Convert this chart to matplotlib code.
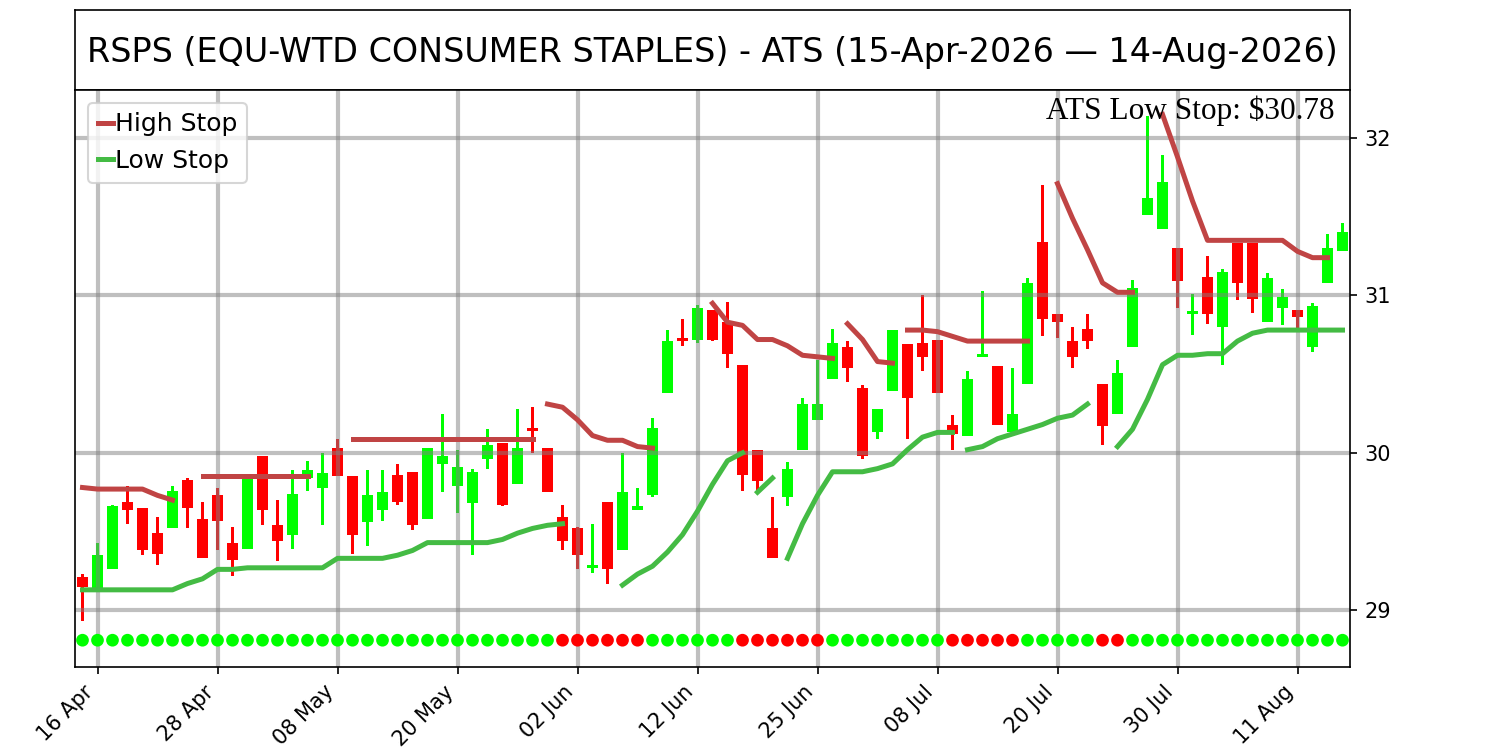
import numpy as np
import pandas as pd
from matplotlib import pyplot as plt

# trading days (NYSE holidays removed)
holidays = ["2026-05-25", "2026-06-19", "2026-07-03"]
days = pd.bdate_range("2026-04-15", "2026-08-14")
days = days[~days.isin(pd.to_datetime(holidays))]

opens = [29.21, 29.13, 29.26, 29.69, 29.65, 29.49, 29.52, 29.83, 29.58, 29.73,
         29.43, 29.39, 29.98, 29.54, 29.48, 29.84, 29.78, 30.03, 29.85, 29.56,
         29.64, 29.86, 29.88, 29.58, 29.93, 29.79, 29.68, 29.96, 30.06, 29.80,
         30.16, 30.03, 29.59, 29.52, 29.27, 29.69, 29.38, 29.64, 29.73, 30.38,
         30.73, 30.72, 30.91, 30.83, 30.56, 30.02, 29.52, 29.72, 30.02, 30.21,
         30.47, 30.67, 30.41, 30.13, 30.39, 30.69, 30.70, 30.72, 30.18, 30.11,
         30.61, 30.55, 30.13, 30.44, 31.34, 30.88, 30.71, 30.79, 30.44, 30.25,
         30.67, 31.51, 31.42, 31.30, 30.88, 31.12, 30.80, 31.33, 31.33, 30.83,
         30.92, 30.91, 30.67, 31.08, 31.28]
highs = [29.23, 29.43, 29.67, 29.79, 29.65, 29.59, 29.79, 29.84, 29.69, 29.78,
         29.53, 29.86, 29.98, 29.70, 29.89, 29.95, 30.00, 30.09, 29.85, 29.89,
         29.89, 29.93, 29.88, 30.03, 30.25, 30.02, 29.90, 30.15, 30.06, 30.28,
         30.29, 30.03, 29.67, 29.53, 29.55, 29.69, 30.00, 29.78, 30.22, 30.78,
         30.85, 30.94, 30.91, 30.96, 30.56, 30.02, 29.72, 29.94, 30.35, 30.59,
         30.79, 30.71, 30.43, 30.28, 30.78, 30.69, 31.00, 30.72, 30.24, 30.52,
         31.03, 30.55, 30.54, 31.11, 31.70, 30.88, 30.80, 30.88, 30.44, 30.59,
         31.10, 32.14, 31.89, 31.30, 31.01, 31.25, 31.17, 31.33, 31.33, 31.14,
         31.04, 30.91, 30.95, 31.39, 31.46]
lows = [28.93, 29.13, 29.26, 29.55, 29.35, 29.29, 29.52, 29.52, 29.33, 29.38,
        29.22, 29.39, 29.54, 29.31, 29.39, 29.76, 29.54, 29.85, 29.36, 29.41,
        29.57, 29.67, 29.51, 29.58, 29.75, 29.62, 29.35, 29.90, 29.66, 29.80,
        30.00, 29.75, 29.38, 29.26, 29.24, 29.17, 29.38, 29.64, 29.72, 30.38,
        30.68, 30.70, 30.71, 30.54, 29.76, 29.76, 29.33, 29.66, 30.02, 30.21,
        30.47, 30.45, 29.96, 30.09, 30.39, 30.09, 30.52, 30.38, 30.02, 30.11,
        30.61, 30.18, 30.13, 30.44, 30.74, 30.73, 30.54, 30.66, 30.05, 30.25,
        30.67, 31.51, 31.42, 30.92, 30.75, 30.82, 30.56, 30.97, 30.89, 30.83,
        30.81, 30.77, 30.64, 31.08, 31.28]
closes = [29.15, 29.35, 29.66, 29.64, 29.38, 29.36, 29.76, 29.65, 29.33, 29.57,
          29.32, 29.86, 29.64, 29.44, 29.74, 29.89, 29.87, 29.85, 29.48, 29.73,
          29.75, 29.69, 29.54, 30.03, 29.98, 29.91, 29.88, 30.05, 29.67, 30.03,
          30.14, 29.75, 29.44, 29.35, 29.29, 29.26, 29.75, 29.66, 30.16, 30.71,
          30.71, 30.92, 30.72, 30.63, 29.86, 29.82, 29.33, 29.90, 30.31, 30.31,
          30.70, 30.54, 29.98, 30.28, 30.78, 30.35, 30.61, 30.38, 30.12, 30.47,
          30.63, 30.18, 30.25, 31.08, 30.85, 30.83, 30.61, 30.71, 30.17, 30.51,
          31.05, 31.62, 31.72, 31.09, 30.90, 30.88, 31.15, 31.08, 30.98, 31.11,
          30.99, 30.86, 30.93, 31.30, 31.40]

# stop lines: (first day index, values)
high_stop_segments = [
    (0, [29.78, 29.77, 29.77, 29.77, 29.77, 29.73, 29.70]),
    (8, [29.85] * 8),
    (18, [30.09] * 13),
    (31, [30.31, 30.29, 30.21, 30.11, 30.08, 30.08, 30.04, 30.03]),
    (42, [30.95, 30.83, 30.81, 30.72, 30.72, 30.68, 30.62, 30.61, 30.60]),
    (51, [30.82, 30.72, 30.58, 30.57]),
    (55, [30.78, 30.78, 30.77, 30.74, 30.71, 30.71, 30.71, 30.71, 30.71]),
    (65, [31.71, 31.49, 31.29, 31.08, 31.02, 31.02]),
    (72, [32.15, 31.88, 31.60, 31.35, 31.35, 31.35, 31.35, 31.35, 31.35,
          31.28, 31.24, 31.24]),
]
low_stop_segments = [
    (0, [29.13, 29.13, 29.13, 29.13, 29.13, 29.13, 29.13, 29.17, 29.20, 29.26,
         29.26, 29.27, 29.27, 29.27, 29.27, 29.27, 29.27, 29.33, 29.33, 29.33,
         29.33, 29.35, 29.38, 29.43, 29.43, 29.43, 29.43, 29.43, 29.45, 29.49,
         29.52, 29.54, 29.55]),
    (36, [29.16, 29.23, 29.28, 29.37, 29.48, 29.63, 29.80, 29.95, 30.00]),
    (45, [29.75, 29.84]),
    (47, [29.33, 29.55, 29.73, 29.88, 29.88, 29.88, 29.90, 29.93, 30.02, 30.10,
          30.13, 30.13]),
    (59, [30.02, 30.04, 30.09, 30.12, 30.15, 30.18, 30.22, 30.24, 30.31]),
    (69, [30.04, 30.15, 30.34, 30.56, 30.62, 30.62, 30.63, 30.63, 30.71, 30.76,
          30.78, 30.78, 30.78, 30.78, 30.78, 30.78]),
]
short_days = [32, 33, 34, 35, 36, 37, 44, 45, 46, 47, 48, 49,
              58, 59, 60, 61, 62, 68, 69]
last_low_stop = 30.78

UP = "#00ff00"
DOWN = "#ff0000"

fig = plt.figure(figsize=(10, 5), dpi=150)
tax = fig.add_axes([0.05, 0.88, 0.85, 0.1067])
tax.set_xticks([])
tax.set_yticks([])
tax.text(0.5, 0.47,
         f"RSPS (EQU-WTD CONSUMER STAPLES) - ATS "
         f"({days[0]:%d-%b-%Y} \u2014 {days[-1]:%d-%b-%Y})",
         ha="center", va="center", fontsize=16, transform=tax.transAxes)

ax = fig.add_axes([0.05, 0.1107, 0.85, 0.7693])
x = np.arange(len(days))
o = np.asarray(opens)
c = np.asarray(closes)
colors = np.where(c >= o, UP, DOWN)

ax.bar(x, np.asarray(highs) - np.asarray(lows), bottom=lows, width=0.2,
       color=colors)
ax.bar(x, np.abs(c - o), bottom=np.minimum(o, c), width=0.7, color=colors)

for k, (start, vals) in enumerate(high_stop_segments):
    ax.plot(np.arange(start, start + len(vals)), vals, color="#c04444",
            lw=2.4, label="High Stop" if k == 0 else None)
for k, (start, vals) in enumerate(low_stop_segments):
    ax.plot(np.arange(start, start + len(vals)), vals, color="#44bb44",
            lw=2.4, label="Low Stop" if k == 0 else None)

dot_colors = [DOWN if i in short_days else UP for i in x]
ax.scatter(x, np.full(len(x), 28.81), s=26, c=dot_colors, zorder=3)

ax.text(0.988, 0.99, f"ATS Low Stop: ${last_low_stop:.2f}", ha="right",
        va="top", fontsize=15, family="Liberation Serif",
        transform=ax.transAxes)

ticks = x[1::8]
ax.set_xticks(ticks)
ax.set_xticklabels([days[i].strftime("%d %b") for i in ticks], rotation=45,
                   ha="right")
ax.set_yticks([29, 30, 31, 32])
ax.yaxis.tick_right()
ax.set_xlim(-0.5, len(x) - 0.5)
ax.set_ylim(28.64, 32.305)
ax.grid(True, color="gray", alpha=0.5, lw=2)
ax.legend(loc="upper left", fontsize=12, handlelength=0.6,
          handletextpad=0.1)

fig.savefig("out.png", dpi=150)
